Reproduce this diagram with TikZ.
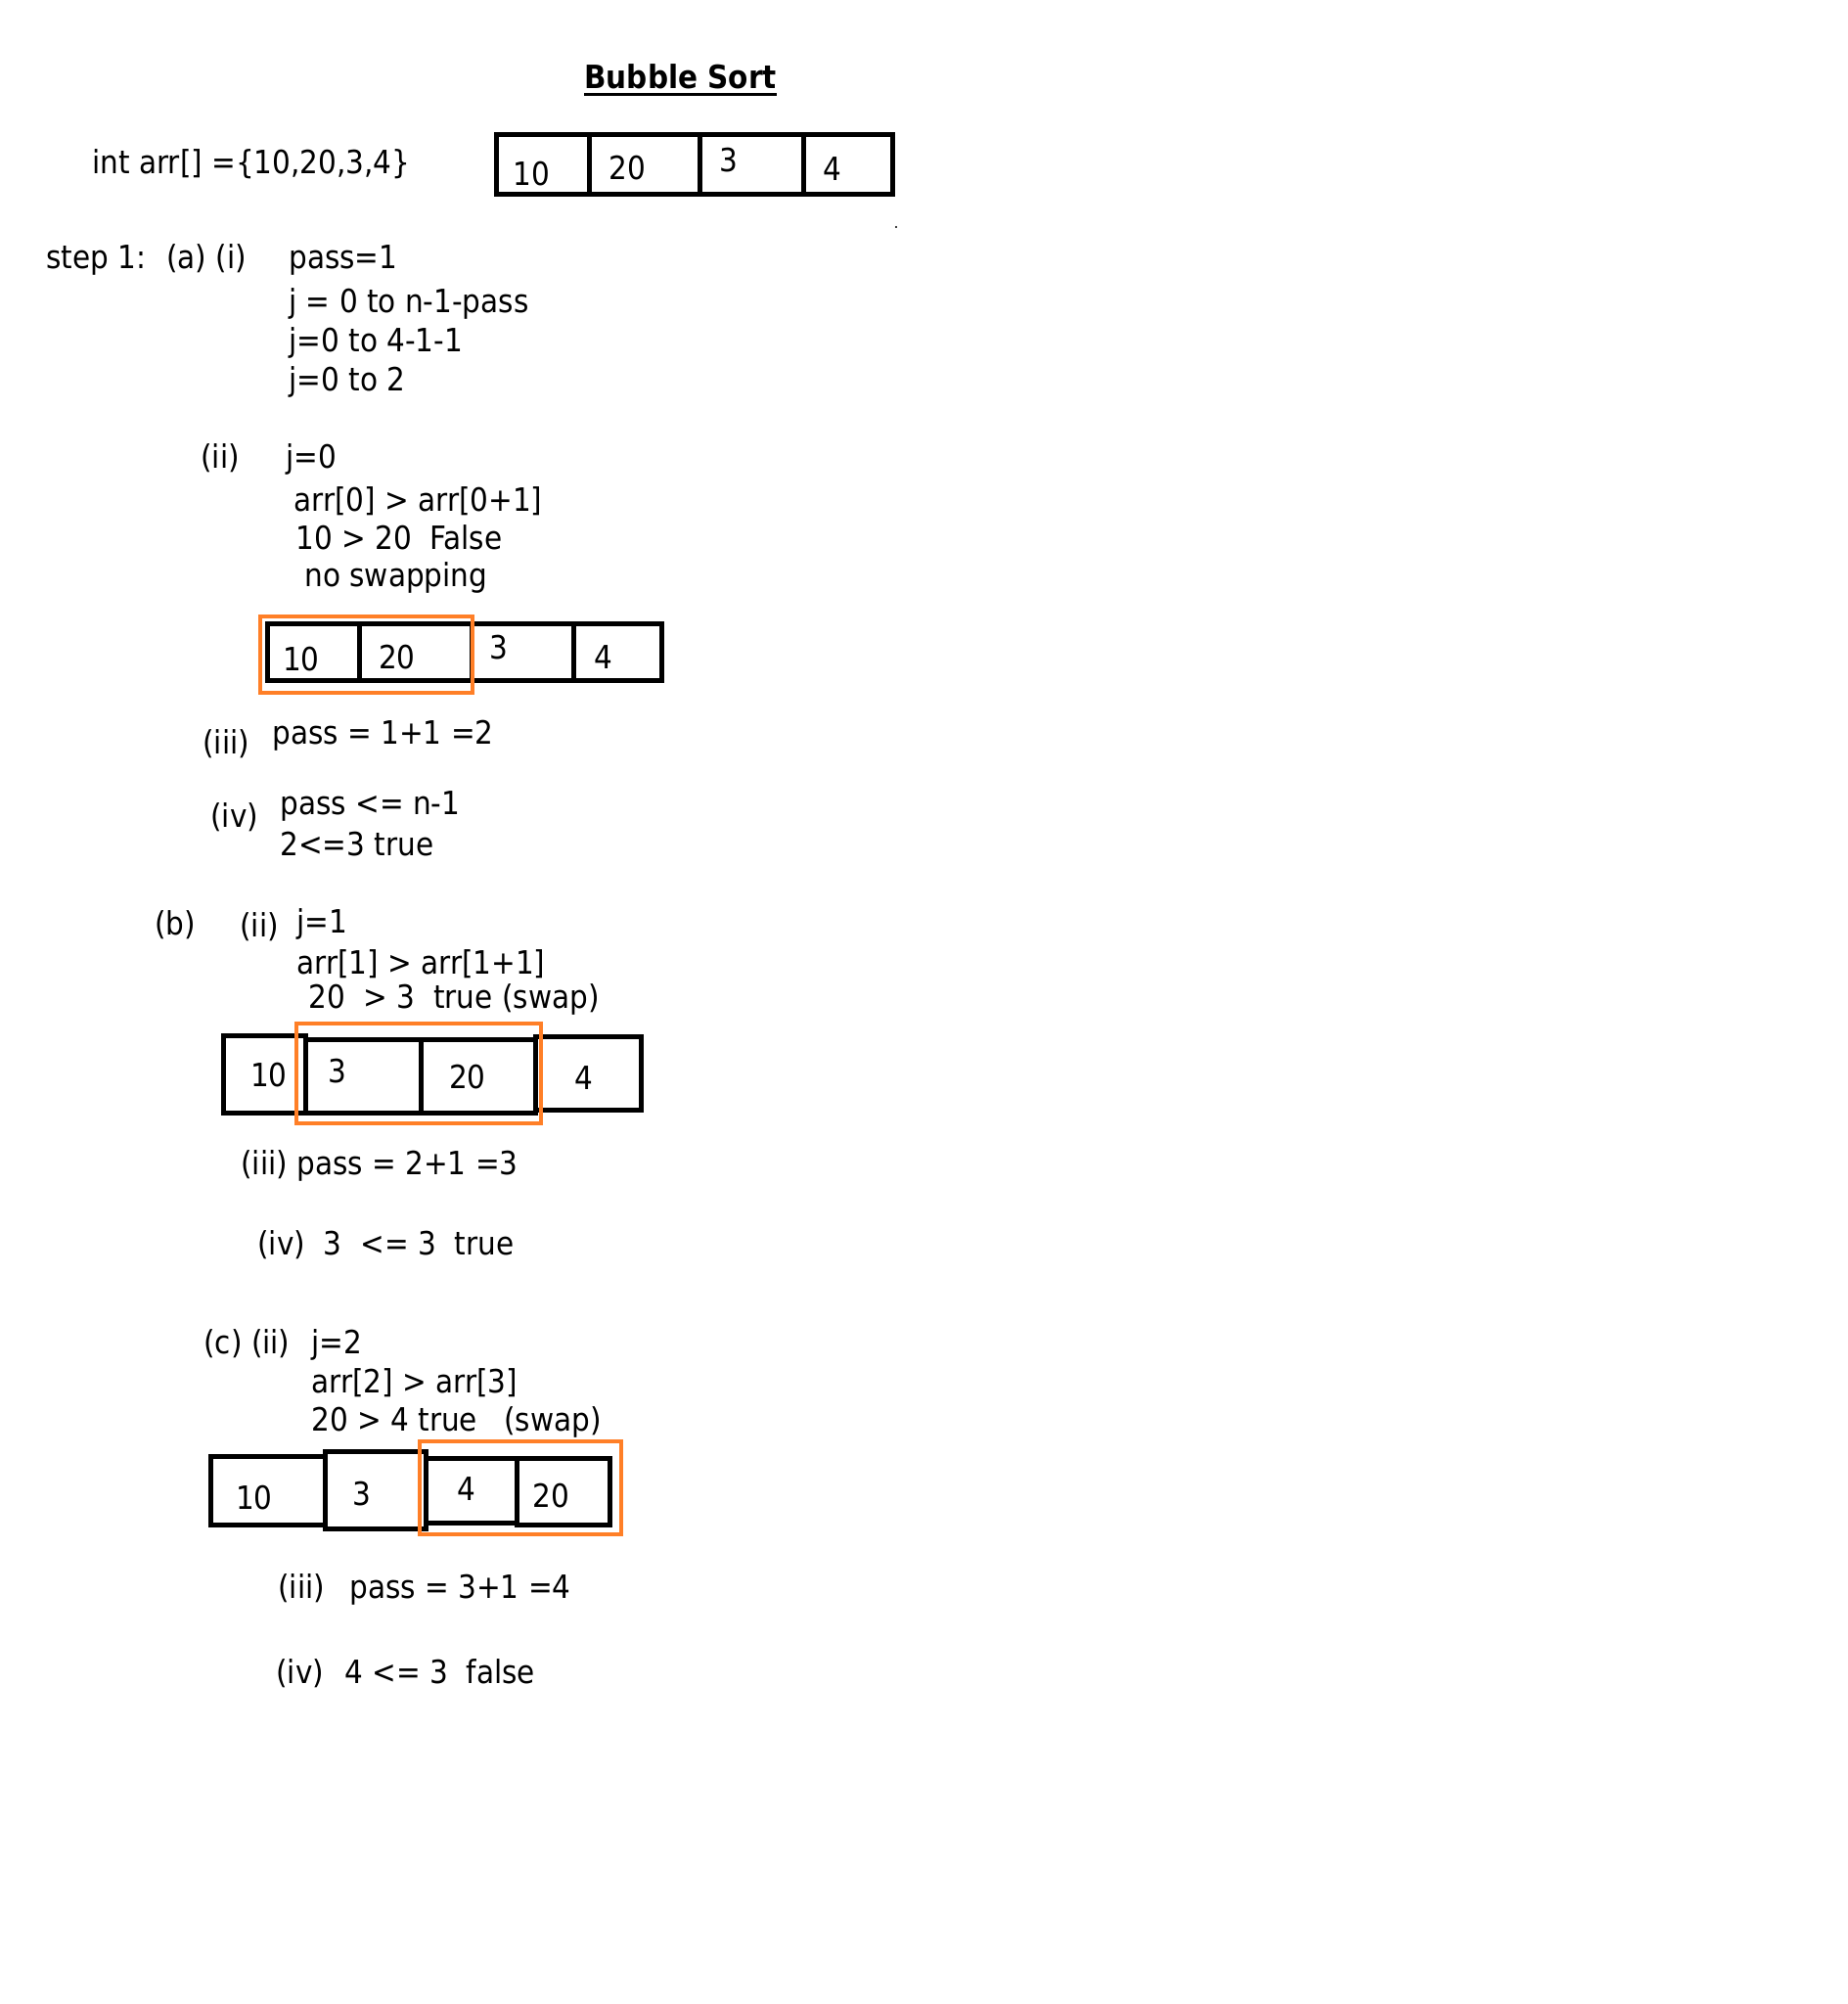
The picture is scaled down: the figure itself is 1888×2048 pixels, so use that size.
\documentclass[tikz,border=0pt]{standalone}
\usepackage{fontspec}
\setmainfont{DejaVu Sans Condensed}
\usepackage{xcolor}
\usepackage{tikz}
\usetikzlibrary{positioning,calc}
\definecolor{swaporange}{RGB}{255,127,39}
\tikzset{
  txt/.style={anchor=base west, inner sep=0pt, font=\fontsize{16.4}{19}\selectfont},
  num/.style={anchor=base, inner sep=0pt, font=\fontsize{16.4}{19}\selectfont},
  cell/.style={line width=2.5pt},
  pick/.style={draw=swaporange, line width=2pt},
}

\begin{document}
\begin{tikzpicture}[x=0.5pt,y=-0.5pt]
        \useasboundingbox (0,0) rectangle (1888,2048);
        % Title
        \node[txt, font=\fontsize{16.4}{19}\selectfont\bfseries] (title) at (597,91) {Bubble Sort};
        \draw[line width=1.5pt] ($(title.base west)+(0,6)$) -- ($(title.base east)+(0,6)$);
        \node[txt] (decl) at (94,178) {int arr[] =\{10,20,3,4\}};
        % Start array
        \foreach \xa/\xb/\n/\nx/\ny in {507/602/10/543/190, 602/715/20/641/184, 715/821/3/745/176, 821/912/4/851/185} {
            \draw[cell] (\xa,138) rectangle (\xb,199);
            \node[num] (start-\n) at (\nx,\ny) {\n};
        }
        \fill (916,232) circle (0.6pt);
        % Step 1 (a)
        \node[txt] (step) at (47,275) {step 1:};
        \node[txt] (ai) at (170,275) {(a) (i)};
        \foreach \y/\t/\n in {275/pass=1/p1, 320/j = 0 to n-1-pass/p2, 360/j=0 to 4-1-1/p3, 400/j=0 to 2/p4} {
            \node[txt] (ai-\n) at (295,\y) {\t};
        }
        \node[txt] (aii) at (205,479) {(ii)};
        \node[txt] (aii-j) at (292,479) {j=0};
        \node[txt] (aii-cmp) at (300,522) {arr[0] > arr[0+1]};
        \node[txt] (aii-val) at (302,561) {10 > 20~ False};
        \node[txt] (aii-res) at (311,599) {no swapping};
        % Array after (a)
        \foreach \xa/\xb/\n/\nx/\ny in {273/367/10/308/685, 367/482/20/406/683, 482/586/3/510/673, 586/676/4/617/683} {
            \draw[cell] (\xa,637) rectangle (\xb,695);
            \node[num] (arrA-\n) at (\nx,\ny) {\n};
        }
        \draw[pick] (266,630) rectangle (483,708);
        \node[txt] (aiii) at (207,770) {(iii)};
        \node[txt] (aiii-p) at (278,760) {pass = 1+1 =2};
        \node[txt] (aiv) at (215,845) {(iv)};
        \node[txt] (aiv-a) at (286,832) {pass <= n-1};
        \node[txt] (aiv-b) at (286,874) {2<=3 true};
        % Step 1 (b)
        \node[txt] (b) at (158,955) {(b)};
        \node[txt] (bii) at (245,957) {(ii)};
        \node[txt] (bii-j) at (303,953) {j=1};
        \node[txt] (bii-cmp) at (303,995) {arr[1] > arr[1+1]};
        \node[txt] (bii-val) at (315,1030) {20~ > 3~ true (swap)};
        % Array after (b)
        \foreach \xa/\ya/\xb/\yb/\n/\nx/\ny in {228/1058/312/1137/10/275/1110, 312/1062/430/1137/3/345/1106, 430/1062/547/1137/20/478/1112, 547/1059/655/1134/4/597/1113} {
            \draw[cell] (\xa,\ya) rectangle (\xb,\yb);
            \node[num] (arrB-\n) at (\nx,\ny) {\n};
        }
        \draw[pick] (303,1046) rectangle (553,1148);
        \node[txt] (biii) at (246,1200) {(iii) pass = 2+1 =3};
        \node[txt] (biv) at (263,1282) {(iv)~ 3~ <= 3~ true};
        % Step 1 (c)
        \node[txt] (cii) at (208,1383) {(c) (ii)};
        \node[txt] (cii-j) at (318,1383) {j=2};
        \node[txt] (cii-cmp) at (318,1423) {arr[2] > arr[3]};
        \node[txt] (cii-val) at (318,1462) {20 > 4 true};
        \node[txt] (cii-swap) at (515,1462) {(swap)};
        % Array after (c)
        \foreach \xa/\ya/\xb/\yb/\n/\nx/\ny in {215/1488/332/1558/10/260/1542, 332/1483/435/1562/3/370/1538, 435/1490/528/1556/4/477/1533, 528/1490/623/1558/20/563/1540} {
            \draw[cell] (\xa,\ya) rectangle (\xb,\yb);
            \node[num] (arrC-\n) at (\nx,\ny) {\n};
        }
        \draw[pick] (429,1473) rectangle (635,1568);
        \node[txt] (ciii) at (284,1633) {(iii)};
        \node[txt] (ciii-p) at (357,1633) {pass = 3+1 =4};
        \node[txt] (civ) at (282,1720) {(iv)};
        \node[txt] (civ-p) at (352,1720) {4 <= 3~ false};
    \end{tikzpicture}
\end{document}
